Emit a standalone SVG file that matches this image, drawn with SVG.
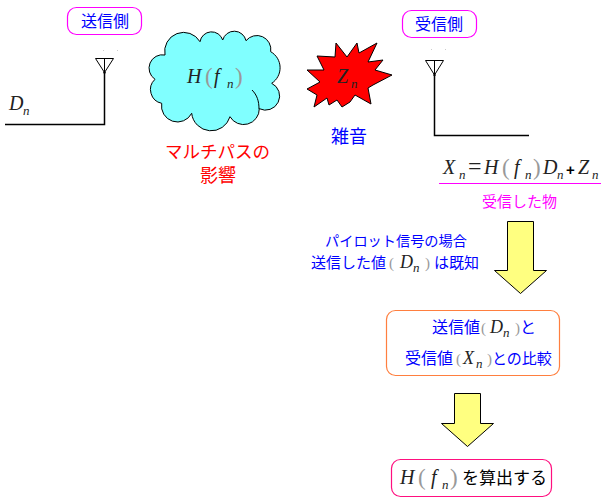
<svg xmlns="http://www.w3.org/2000/svg" width="604" height="504" viewBox="0 0 604 504">
<style>
text{font-family:"Noto Sans CJK JP","Noto Sans",sans-serif;font-size:15px;fill:#0000ff}
.m,.s,.p{font-family:"Liberation Serif",serif;fill:#222}
.m{font-size:20px;font-style:italic}
.s{font-size:13px;font-style:italic}
.p{font-size:23px;fill:#999}
.w{fill:none;stroke:#000;stroke-width:1.5}
.t{fill:none;stroke:#000;stroke-width:1}
.b{fill:#fff;stroke-width:1.2}
.a{fill:#ffff80;stroke:#000;stroke-width:1}
</style>
<rect width="604" height="504" fill="#fff"/>
<g id="connectors">
<path class="w" d="M5 124.500H104.500V72"/>
<path class="w" d="M434.500 75V135.500H529"/>
<path class="a" d="M507.500 221.500H533.500V270.500H546.500L520.500 293.500L494.500 270.500H507.500Z"/>
<path class="a" d="M454.500 393.500H480.500V423.500H493.500L467.500 446.500L441.500 423.500H454.500Z"/>
</g>
<g id="sender-label">
<rect class="b" x="67.500" y="7.500" width="74" height="27" rx="9" stroke="#ff00ff"/>
<text x="81" y="27" style="font-size:16px">送信側</text>
</g>
<g id="sender-antenna">
<path class="t" d="M95.500 58.500H113.500L104.500 72.500ZM104.500 58.500V72.500"/>
<circle cx="104.500" cy="72.500" r="1.200"/>
<path stroke="#ccc" stroke-width="1" d="M103 50.500h1M117 50.500h1"/>
<text class="m" x="9" y="110">D</text><text class="s" x="23" y="115">n</text>
</g>
<g id="channel-cloud">
<path fill="#80ffff" stroke="#000" stroke-width="1" d="M165 55A19 19 0 0 1 200 41.700A11.700 11.700 0 0 1 222.700 40A12 12 0 0 1 246 40.700A14 14 0 0 1 270.700 51.700A18.500 18.500 0 0 1 271.700 83.300A14 14 0 0 1 259.300 108.700A15.700 15.700 0 0 1 230 116.700A19.600 19.600 0 0 1 191.700 113.300A16 16 0 0 1 161.700 103.300A14 14 0 0 1 155 79.300A13.400 13.400 0 0 1 165 55Z"/>
<path fill="none" stroke="#000" stroke-width="1" d="M252 90C257 95 259 101 259 109"/>
<text class="m" x="187" y="83">H</text><text class="p" x="205" y="84">(</text><text class="m" x="214" y="83">f</text><text class="s" x="227" y="88">n</text><text class="p" x="235" y="84">)</text>
</g>
<g id="multipath-label">
<text x="165" y="158" style="font-size:17.500px;fill:#ff0000">マルチパスの</text>
<text x="200" y="182" style="font-size:18px;fill:#ff0000">影響</text>
</g>
<g id="noise">
<path fill="#ff0000" stroke="#000" stroke-width="1" d="M307 70L324 70L317 56L335 57L336 43L347 57L357 43L359 53L377 43L368 62L383 60L375 70L392 75L373 85L368 88L371 104L355 95L350 102L342 107L337 100L329 105L327 98L314 107L317 95L307 89L320 82Z"/>
<text class="m" x="337" y="83">Z</text><text class="s" x="351" y="88">n</text>
<text x="331" y="143" style="font-size:18px">雑音</text>
</g>
<g id="receiver-label">
<rect class="b" x="402.500" y="10.500" width="74" height="27" rx="9" stroke="#ff00ff"/>
<text x="415" y="30" style="font-size:16px">受信側</text>
</g>
<g id="receiver-antenna">
<path class="t" d="M425.500 60.500H443.500L434.500 75ZM434.500 60.500V75"/>
<circle cx="434.500" cy="75" r="1.200"/>
<path stroke="#ccc" stroke-width="1" d="M431 49.500h1M445 49.500h1"/>
</g>
<g id="received-formula">
<text class="m" x="443" y="174">X</text><text class="s" x="459" y="179">n</text>
<text class="m" x="468" y="174" style="font-style:normal;font-size:24px">=</text>
<text class="m" x="484" y="174">H</text><text class="p" x="502" y="175">(</text><text class="m" x="514" y="174">f</text><text class="s" x="525" y="179">n</text><text class="p" x="533" y="175">)</text>
<text class="m" x="543" y="174">D</text><text class="s" x="557" y="179">n</text>
<text x="566" y="175" style="font-family:'Liberation Sans',sans-serif;font-size:15px;font-weight:bold;fill:#000">+</text>
<text class="m" x="578" y="174">Z</text><text class="s" x="592" y="179">n</text>
<path stroke="#ff00ff" stroke-width="1" d="M439 183.500H601"/>
<text x="482" y="207" style="fill:#ff00ff">受信した物</text>
</g>
<g id="pilot-note">
<text x="325" y="246" style="font-size:14.200px">パイロット信号の場合</text>
<text x="311" y="268">送信した値</text>
<text class="p" x="389" y="268" style="font-size:15px">(</text>
<text class="m" x="400" y="268" style="font-size:18px">D</text><text class="s" x="413" y="272">n</text>
<text class="p" x="425" y="268" style="font-size:15px">)</text>
<text x="434" y="268">は既知</text>
</g>
<g id="comparison">
<rect class="b" x="386.500" y="310.500" width="173" height="65" rx="9" stroke="#ff7f3f"/>
<text x="432" y="333" style="font-size:16px">送信値</text>
<text class="p" x="481" y="333" style="font-size:15px">(</text>
<text class="m" x="490" y="333" style="font-size:18px">D</text><text class="s" x="503" y="337">n</text>
<text class="p" x="515" y="333" style="font-size:15px">)</text>
<text x="520" y="333" style="font-size:16px">と</text>
<text x="405" y="364" style="font-size:16px">受信値</text>
<text class="p" x="456" y="364" style="font-size:15px">(</text>
<text class="m" x="463" y="364" style="font-size:18px">X</text><text class="s" x="476" y="368">n</text>
<text class="p" x="487" y="364" style="font-size:15px">)</text>
<text x="492" y="364">との比較</text>
</g>
<g id="calculate">
<rect class="b" x="391.500" y="459.500" width="160" height="37" rx="9" stroke="#ff0f7f"/>
<text class="m" x="400" y="484">H</text><text class="p" x="418" y="485">(</text><text class="m" x="431" y="484">f</text><text class="s" x="442" y="489">n</text><text class="p" x="450" y="485">)</text>
<text x="462" y="484" style="font-size:17px;fill:#000">を算出する</text>
</g>
</svg>
